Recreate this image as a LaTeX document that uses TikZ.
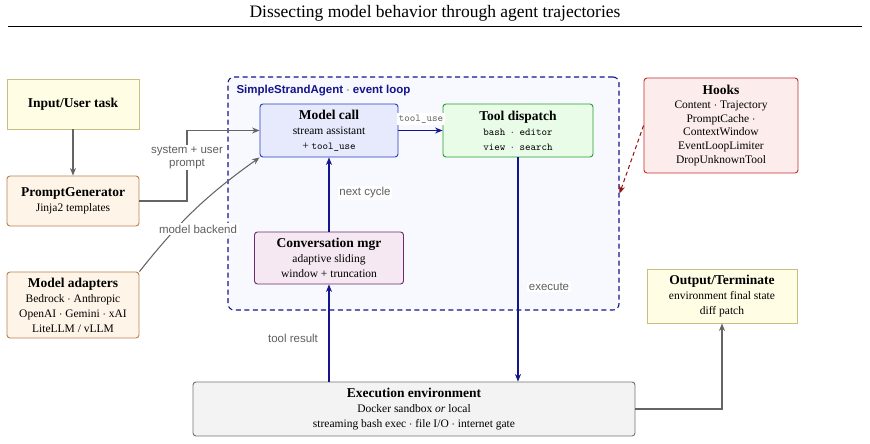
\documentclass[tikz,border=0pt]{standalone}
\usepackage{fontspec}
\setmainfont{Liberation Serif}
\setsansfont{Liberation Sans}
\usetikzlibrary{positioning,arrows.meta}
\definecolor{loopnavy}{RGB}{20,20,140}
\definecolor{loopfill}{RGB}{248,248,255}
\definecolor{taskfill}{RGB}{255,253,228}
\definecolor{taskdraw}{RGB}{200,190,130}
\definecolor{genfill}{RGB}{255,244,232}
\definecolor{gendraw}{RGB}{185,130,75}
\definecolor{callfill}{RGB}{230,234,252}
\definecolor{calldraw}{RGB}{40,60,190}
\definecolor{toolfill}{RGB}{232,252,232}
\definecolor{tooldraw}{RGB}{40,160,40}
\definecolor{convfill}{RGB}{245,232,242}
\definecolor{convdraw}{RGB}{105,45,105}
\definecolor{hookfill}{RGB}{253,236,236}
\definecolor{hookdraw}{RGB}{190,45,45}
\definecolor{hookarrow}{RGB}{150,15,15}
\definecolor{envfill}{RGB}{243,243,243}
\definecolor{envdraw}{RGB}{115,115,115}
\definecolor{labelgray}{RGB}{95,95,95}
\definecolor{flowgray}{RGB}{100,100,100}
\newcommand{\hd}[1]{{\fontsize{13.5}{16}\selectfont\bfseries #1}}

\begin{document}
\begin{tikzpicture}[x=1pt,y=-1pt,
  box/.style={draw,rounded corners=3pt,align=center,inner sep=2pt,line width=0.9pt,
    font=\fontsize{11.5}{15}\selectfont},
  flow/.style={-{Stealth[length=7.5pt,width=6pt]},line width=1.05pt},
  lbl/.style={fill=white,align=center,inner sep=1.5pt,text=labelgray,
    font=\sffamily\fontsize{11.5}{13}\selectfont}]
\useasboundingbox (0,0) rectangle (870,444);
\node (title) at (435,13) {\fontsize{17.5}{20}\selectfont Dissecting model behavior through agent trajectories};
\draw[line width=1pt] (8,27) -- (862,27);

\node[box,rounded corners=0pt,fill=taskfill,draw=taskdraw,minimum width=132,minimum height=50] (input) at (73,104) {\hd{Input/User task}};
\node[box,fill=genfill,draw=gendraw,minimum width=132,minimum height=50] (prompt) at (73,201) {\hd{PromptGenerator}\\Jinja2 templates};
\node[box,fill=genfill,draw=gendraw,minimum width=132,minimum height=66] (adapt) at (73,305) {\hd{Model adapters}\\Bedrock $\cdot$ Anthropic\\OpenAI $\cdot$ Gemini $\cdot$ xAI\\LiteLLM / vLLM};

\node[draw=loopnavy,fill=loopfill,dash pattern=on 5pt off 3.5pt,line width=1.1pt,rounded corners=6pt,minimum width=391,minimum height=233] (loop) at (423.5,193.5) {};
\node[anchor=west,text=loopnavy,font=\sffamily\bfseries\fontsize{11.5}{13}\selectfont] (looptitle) at (233,91) {SimpleStrandAgent $\cdot$ event loop};

\node[box,fill=callfill,draw=calldraw,minimum width=138,minimum height=53] (mcall) at (329,130.5) {\hd{Model call}\\stream assistant\\+ {\ttfamily\fontsize{10.5}{15}\selectfont tool\_use}};
\node[box,fill=toolfill,draw=tooldraw,minimum width=150,minimum height=53] (tool) at (518,130.5) {\hd{Tool dispatch}\\{\ttfamily\fontsize{10.5}{15}\selectfont bash $\cdot$ editor}\\{\ttfamily\fontsize{10.5}{15}\selectfont view $\cdot$ search}};
\node[box,fill=convfill,draw=convdraw,minimum width=149,minimum height=52] (conv) at (329,258) {\hd{Conversation mgr}\\adaptive sliding\\window + truncation};
\node[box,fill=hookfill,draw=hookdraw,minimum width=154,minimum height=95,font=\fontsize{11.5}{13.8}\selectfont] (hooks) at (721,125.5) {\hd{Hooks}\\Content $\cdot$ Trajectory\\PromptCache $\cdot$\\ContextWindow\\EventLoopLimiter\\DropUnknownTool};
\node[box,rounded corners=0pt,fill=taskfill,draw=taskdraw,minimum width=150,minimum height=54] (output) at (722,296) {\hd{Output/Terminate}\\environment final state\\diff patch};
\node[box,fill=envfill,draw=envdraw,minimum width=442,minimum height=54] (env) at (414,409) {\hd{Execution environment}\\Docker sandbox \emph{or} local\\streaming bash exec $\cdot$ file I/O $\cdot$ internet gate};

% connectors
\draw[flow,flowgray] (input) -- (prompt);
\coordinate (pbend) at (187,201);
\draw[flow,flowgray] (prompt.east) -- (pbend) |- (mcall.west);
\node[lbl] (syslbl) at (187,157.5) {system + user\\prompt};
\draw[flow,flowgray] (adapt.north east) to[bend left=8] (mcall.south west);
\node[lbl] (backlbl) at (198,229) {model backend};
\draw[flow,loopnavy] (mcall) -- (tool);
\node[lbl,font=\ttfamily\fontsize{10.5}{12}\selectfont] (uselbl) at (421,119) {tool\_use};
\draw[flow,loopnavy] (tool.south) -- (tool.south |- env.north);
\node[lbl] (execlbl) at (549,287) {execute};
\draw[flow,loopnavy] (conv.north) -- (mcall.south);
\node[lbl] (nextlbl) at (365,193) {next cycle};
\draw[flow,loopnavy] (conv.south |- env.north) -- (conv.south);
\node[lbl] (reslbl) at (293,338) {tool result};
\draw[flow,hookarrow,dash pattern=on 4pt off 3pt,line width=1pt] (hooks.west) -- (loop.east);
\draw[flow,flowgray] (env.east) -| (output.south);
\end{tikzpicture}
\end{document}
